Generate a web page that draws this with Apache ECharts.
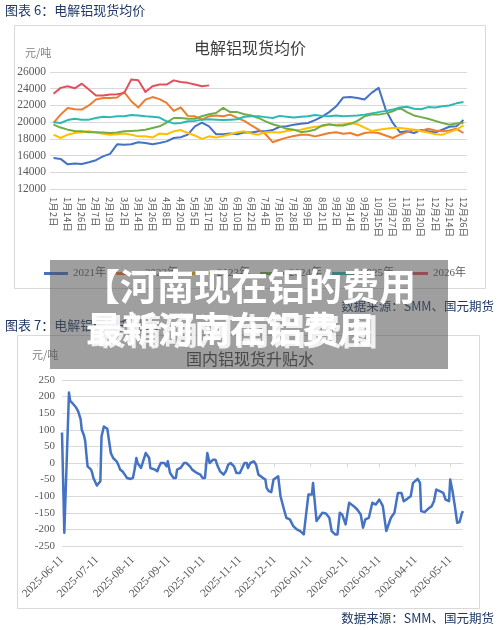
<!DOCTYPE html>
<html>
<head>
<meta charset="utf-8">
<script src="https://cdn.jsdelivr.net/npm/echarts@6/dist/echarts.min.js"></script>
<style>
  html, body { margin: 0; background: #fff; }
  #chart { width: 500px; height: 630px; }
</style>
</head>
<body>
<div id="chart"></div>
<script>
// ---- chart 6: spot price by year (trading-day categories) ----
const dayLabels = [
  "1月2日", "1月8日", "1月14日", "1月20日", "1月26日", "2月1日", "2月7日", "2月13日", "2月19日", "2月25日",
  "3月2日", "3月8日", "3月14日", "3月20日", "3月26日", "4月1日", "4月8日", "4月14日", "4月20日", "4月27日",
  "5月5日", "5月11日", "5月17日", "5月23日", "5月29日", "6月4日", "6月10日", "6月16日", "6月22日", "6月28日",
  "7月4日", "7月10日", "7月16日", "7月22日", "7月28日", "8月3日", "8月9日", "8月15日", "8月21日", "8月27日",
  "9月2日", "9月8日", "9月14日", "9月20日", "9月26日", "10月9日", "10月15日", "10月21日", "10月27日", "11月2日",
  "11月8日", "11月14日", "11月20日", "11月26日", "12月2日", "12月8日", "12月14日", "12月20日", "12月26日"
];
const yearNames = ["2021年", "2022年", "2023年", "2024年", "2025年", "2026年"];
const yearColors = ["#4472C4", "#ED7D31", "#FFC000", "#70AD47", "#2DB9B3", "#E2505E"];

const price2021 = [15700, 15600, 14950, 15050, 15000, 15200, 15450, 15900, 16200, 17350,
  17300, 17350, 17600, 17500, 17350, 17500, 17700, 18100, 18200, 18500,
  19500, 19950, 19500, 18550, 18550, 18650, 18550, 18800, 18750, 18900,
  18900, 19050, 19450, 19500, 19700, 19800, 19900, 20250, 20650, 21200,
  21900, 22950, 23000, 22900, 22700, 23500, 24100, 21500, 19900, 18800,
  18900, 18700, 19050, 18900, 18750, 19100, 19450, 19500, 20250];
const price2022 = [19900, 20900, 21700, 21550, 21500, 22000, 22700, 22900, 22900, 22950,
  23600, 22500, 21750, 22700, 23000, 22750, 22300, 21350, 21750, 20750,
  20700, 20300, 20700, 20800, 20700, 20900, 20500, 20150, 19600, 19100,
  18550, 17600, 17900, 18150, 18350, 18500, 18500, 18300, 18500, 18700,
  18800, 18600, 18700, 18400, 18700, 18800, 18700, 18400, 18100, 18500,
  18800, 19100, 18950, 19200, 19000, 18900, 19000, 19200, 18700];
const price2023 = [18500, 18100, 18500, 18700, 18800, 18900, 18750, 18600, 18500, 18550,
  18650, 18500, 18300, 18300, 18150, 18650, 18550, 18900, 19050, 18700,
  18400, 18000, 18300, 18150, 18350, 18550, 18800, 18900, 18650, 18500,
  18800, 18800, 18750, 18950, 19050, 19100, 19300, 19450, 19500, 19700,
  19700, 19750, 19900, 19750, 19350, 18950, 19100, 19200, 19300, 19300,
  19200, 19100, 18900, 18750, 18550, 18500, 18800, 19100, 19600];
const price2024 = [19700, 19350, 19100, 18950, 18900, 18800, 18800, 18750, 18700, 18750,
  18900, 18950, 19000, 19100, 19300, 19500, 19950, 20500, 20500, 20400,
  20400, 20700, 20950, 21100, 21700, 21200, 21200, 20950, 20800, 20500,
  20100, 19750, 19500, 19200, 19100, 18800, 18900, 19100, 19600, 19750,
  19600, 19600, 19800, 20150, 20700, 20900, 20900, 21050, 21300, 21700,
  21200, 20800, 20600, 20400, 20150, 19900, 19700, 19850, 19900];
const price2025 = [20000, 19900, 20250, 20400, 20300, 20300, 20500, 20650, 20600, 20700,
  20700, 20850, 20800, 20700, 20650, 20550, 20100, 19850, 19900, 20100,
  20150, 20300, 20350, 20300, 20250, 20300, 20350, 20650, 20700, 20700,
  20600, 20500, 20750, 20650, 20550, 20650, 20700, 20850, 20750, 20700,
  20800, 20700, 20750, 20800, 20900, 21050, 21200, 21350, 21500, 21750,
  21850, 21600, 21550, 21800, 21750, 21900, 22000, 22250, 22400];
const price2026 = [23400, 24100, 24300, 24050, 24600, 23900, 23200, 23200, 23300, 23350,
  23500, 25100, 25000, 23600, 24300, 24500, 24500, 25000, 24800, 24700,
  24500, 24300, 24400];

// ---- chart 7: domestic spot premium / discount ----
const spreadDates = [
  "2025-06-11", "2025-06-13", "2025-06-17", "2025-06-18", "2025-06-20", "2025-06-23", "2025-06-25", "2025-06-27",
  "2025-06-28", "2025-06-30", "2025-07-01", "2025-07-02", "2025-07-03", "2025-07-06", "2025-07-07", "2025-07-08",
  "2025-07-09", "2025-07-11", "2025-07-12", "2025-07-14", "2025-07-15", "2025-07-17", "2025-07-20", "2025-07-21",
  "2025-07-23", "2025-07-25", "2025-07-26", "2025-07-28", "2025-07-30", "2025-07-31", "2025-08-02", "2025-08-04",
  "2025-08-06", "2025-08-09", "2025-08-11", "2025-08-13", "2025-08-14", "2025-08-15", "2025-08-18", "2025-08-19",
  "2025-08-22", "2025-08-23", "2025-08-25", "2025-08-26", "2025-08-30", "2025-09-01", "2025-09-02", "2025-09-04",
  "2025-09-07", "2025-09-09", "2025-09-10", "2025-09-12", "2025-09-13", "2025-09-15", "2025-09-17", "2025-09-18",
  "2025-09-21", "2025-09-24", "2025-09-26", "2025-09-29", "2025-10-01", "2025-10-05", "2025-10-08", "2025-10-10",
  "2025-10-12", "2025-10-14", "2025-10-16", "2025-10-19", "2025-10-21", "2025-10-23", "2025-10-25", "2025-10-28",
  "2025-10-30", "2025-11-01", "2025-11-03", "2025-11-04", "2025-11-06", "2025-11-08", "2025-11-11", "2025-11-13",
  "2025-11-15", "2025-11-17", "2025-11-18", "2025-11-20", "2025-11-23", "2025-11-25", "2025-11-27", "2025-12-01",
  "2025-12-03", "2025-12-04", "2025-12-06", "2025-12-08", "2025-12-10", "2025-12-14", "2025-12-16", "2025-12-19",
  "2025-12-21", "2025-12-24", "2025-12-27", "2025-12-30", "2026-01-02", "2026-01-05", "2026-01-06", "2026-01-09",
  "2026-01-12", "2026-01-13", "2026-01-14", "2026-01-16", "2026-01-18", "2026-01-21", "2026-01-24", "2026-01-27",
  "2026-01-29", "2026-02-01", "2026-02-03", "2026-02-05", "2026-02-07", "2026-02-10", "2026-02-11", "2026-02-13",
  "2026-02-17", "2026-02-20", "2026-02-23", "2026-02-25", "2026-02-27", "2026-03-02", "2026-03-05", "2026-03-08",
  "2026-03-11", "2026-03-14", "2026-03-17", "2026-03-18", "2026-03-21", "2026-03-24", "2026-03-27", "2026-03-30",
  "2026-04-01", "2026-04-04", "2026-04-07", "2026-04-09", "2026-04-13", "2026-04-15", "2026-04-16", "2026-04-19",
  "2026-04-22", "2026-04-25", "2026-04-27", "2026-04-29", "2026-05-02", "2026-05-05", "2026-05-07", "2026-05-10",
  "2026-05-11", "2026-05-13", "2026-05-15", "2026-05-17", "2026-05-19", "2026-05-21", "2026-05-22"
];
const spreadValues = [
  92, -210, 212, 188, 180, 168, 155, 132,
  100, 82, 65, 25, -10, -20, -30, -45,
  -50, -68, -62, -55, 80, 110, 103, 100,
  30, 15, 10, 5, -10, -20, -25, -35,
  -45, -48, -45, -10, 15, 0, -15, -15,
  30, 25, 15, -15, -20, -25, -15, 0,
  0, -10, 5, -30, -35, -45, -45, -20,
  -15, 0, 0, -10, -20, -30, -35, -45,
  -45, 30, 0, 10, 10, -10, -25, -35,
  -25, -5, 0, 0, -10, -30, -30, -15,
  0, 0, -15, 0, 5, -5, -35, -45,
  -50, -75, -85, -88, -50, -40, -100, -140,
  -165, -170, -190, -200, -205, -215, -220, -95,
  -95, -60, -100, -175, -165, -150, -152, -165,
  -205, -215, -215, -150, -155, -185, -190, -120,
  -130, -140, -155, -195, -170, -165, -120, -125,
  -110, -130, -205, -195, -165, -150, -90, -90,
  -115, -108, -100, -60, -48, -60, -145, -148,
  -138, -130, -115, -80, -85, -90, -110, -115,
  -50, -85, -130, -180, -178, -152, -145
];
const monthTicks = [
  "2025-06-11", "2025-07-11", "2025-08-11", "2025-09-11", "2025-10-11", "2025-11-11",
  "2025-12-11", "2026-01-11", "2026-02-11", "2026-03-11", "2026-04-11", "2026-05-11"
];

const SERIF = '"Liberation Serif", "Noto Sans CJK SC", serif';
const CJK = '"Noto Sans CJK SC", sans-serif';
const GRID_LINE = "#d9d9d9";
const LABEL = "#595959";
const NAVY = "#1f3864";

const yearSeries = [price2021, price2022, price2023, price2024, price2025, price2026].map((vals, i) => ({
  name: yearNames[i],
  type: "line",
  xAxisIndex: 0,
  yAxisIndex: 0,
  data: vals,
  showSymbol: false,
  symbol: "none",
  lineStyle: { width: 2, color: yearColors[i], join: "round" },
  itemStyle: { color: yearColors[i] },
  z: 2 + i,
}));

const chart = echarts.init(document.getElementById("chart"), null, { renderer: "canvas" });

chart.setOption({
  backgroundColor: "#fff",
  animation: false,
  textStyle: { fontFamily: CJK },
  title: [
    {
      text: "电解铝现货均价",
      left: "center",
      top: 35,
      textStyle: { fontFamily: CJK, fontSize: 16, fontWeight: "normal", color: "#404040" },
    },
    {
      text: "国内铝现货升贴水",
      left: "center",
      top: 346,
      textStyle: { fontFamily: CJK, fontSize: 16, fontWeight: "normal", color: "#404040" },
    },
  ],
  legend: {
    data: yearNames,
    left: 39,
    top: 263,
    icon: "rect",
    itemWidth: 24,
    itemHeight: 3,
    itemGap: 10,
    textStyle: { fontFamily: SERIF, fontSize: 11, color: LABEL },
  },
  grid: [
    { left: 50, top: 72, width: 417, height: 117, outerBoundsMode: "none" },
    { left: 62, top: 380, width: 401, height: 166, outerBoundsMode: "none" },
  ],
  xAxis: [
    {
      type: "category",
      gridIndex: 0,
      data: dayLabels,
      boundaryGap: true,
      axisLine: { show: false },
      axisTick: { show: false },
      axisLabel: { interval: 1, rotate: -90, margin: 8, fontFamily: CJK, fontSize: 9.5, color: LABEL },
    },
    {
      // date labels along the bottom of chart 7
      type: "time",
      gridIndex: 1,
      position: "bottom",
      min: "2025-06-11",
      max: "2026-05-22",
      axisLine: { show: false, onZero: false },
      axisTick: { show: false },
      axisLabel: {
        customValues: monthTicks,
        formatter: "{yyyy}-{MM}-{dd}",
        rotate: 45,
        margin: 12,
        fontFamily: SERIF,
        fontSize: 11.5,
        color: LABEL,
      },
      splitLine: { show: false },
    },
    {
      // axis line with month ticks sitting on the zero line
      type: "time",
      gridIndex: 1,
      position: "bottom",
      offset: -83,
      min: "2025-06-11",
      max: "2026-05-22",
      axisLine: { show: true, onZero: false, lineStyle: { color: GRID_LINE } },
      axisTick: { show: true, customValues: monthTicks, length: 4, lineStyle: { color: GRID_LINE } },
      axisLabel: { show: false },
      splitLine: { show: false },
    },
  ],
  yAxis: [
    {
      type: "value",
      gridIndex: 0,
      min: 12000,
      max: 26000,
      interval: 2000,
      axisLine: { show: false },
      axisTick: { show: false },
      axisLabel: { margin: 4, fontFamily: SERIF, fontSize: 11.5, color: LABEL, formatter: (v) => String(v) },
      splitLine: { lineStyle: { color: GRID_LINE } },
    },
    {
      type: "value",
      gridIndex: 1,
      min: -250,
      max: 250,
      interval: 50,
      axisLine: { show: false },
      axisTick: { show: false },
      axisLabel: { margin: 7, showMaxLabel: true, showMinLabel: true, fontFamily: SERIF, fontSize: 11, color: LABEL },
      splitLine: { lineStyle: { color: GRID_LINE } },
    },
  ],
  series: [
    ...yearSeries,
    {
      name: "升贴水",
      type: "line",
      xAxisIndex: 1,
      yAxisIndex: 1,
      data: spreadDates.map((d, i) => [d, spreadValues[i]]),
      showSymbol: false,
      symbol: "none",
      lineStyle: { width: 2.5, color: "#4472C4", join: "round" },
    },
  ],
  graphic: [
    // report captions and chart frames
    { type: "text", left: 5, top: 4, style: { text: "图表 6：电解铝现货均价", font: '13px ' + CJK, fill: NAVY } },
    { type: "rect", shape: { x: 14.5, y: 25.5, width: 471, height: 263 }, style: { fill: null, stroke: GRID_LINE, lineWidth: 1 }, silent: true },
    { type: "text", left: 25, top: 47, style: { text: "元/吨", font: '11px ' + CJK, fill: "#7f7f7f" } },
    { type: "text", right: 6, top: 300, style: { text: "数据来源：SMM、国元期货", font: '12.5px ' + CJK, fill: NAVY } },
    { type: "text", left: 5, top: 319, style: { text: "图表 7：电解铝现货升贴水", font: '13px ' + CJK, fill: NAVY } },
    { type: "rect", shape: { x: 17.5, y: 335.5, width: 462, height: 273 }, style: { fill: null, stroke: GRID_LINE, lineWidth: 1 }, silent: true },
    { type: "text", left: 32, top: 349, style: { text: "元/吨", font: '11px ' + CJK, fill: "#7f7f7f" } },
    { type: "text", right: 6, top: 612, style: { text: "数据来源：SMM、国元期货", font: '12.5px ' + CJK, fill: NAVY } },
    // overlay banner
    { type: "rect", z: 100, shape: { x: 50, y: 260, width: 398, height: 109 }, style: { fill: "rgba(80,80,80,0.55)" }, silent: true },
    { type: "text", z: 101, left: 83, top: 268, style: { text: "【河南现在铝的费用", font: 'bold 37px ' + CJK, fill: "#fff" } },
    { type: "text", z: 101, left: 86, top: 311, style: { text: "最新河南在铝费用", font: 'bold 36px ' + CJK, fill: "#fff" } },
    { type: "text", z: 101, left: 90, top: 313, style: { text: "最精确河南铝费图", font: 'bold 36px ' + CJK, fill: "rgba(255,255,255,0.85)" } },
  ],
});
</script>
</body>
</html>
